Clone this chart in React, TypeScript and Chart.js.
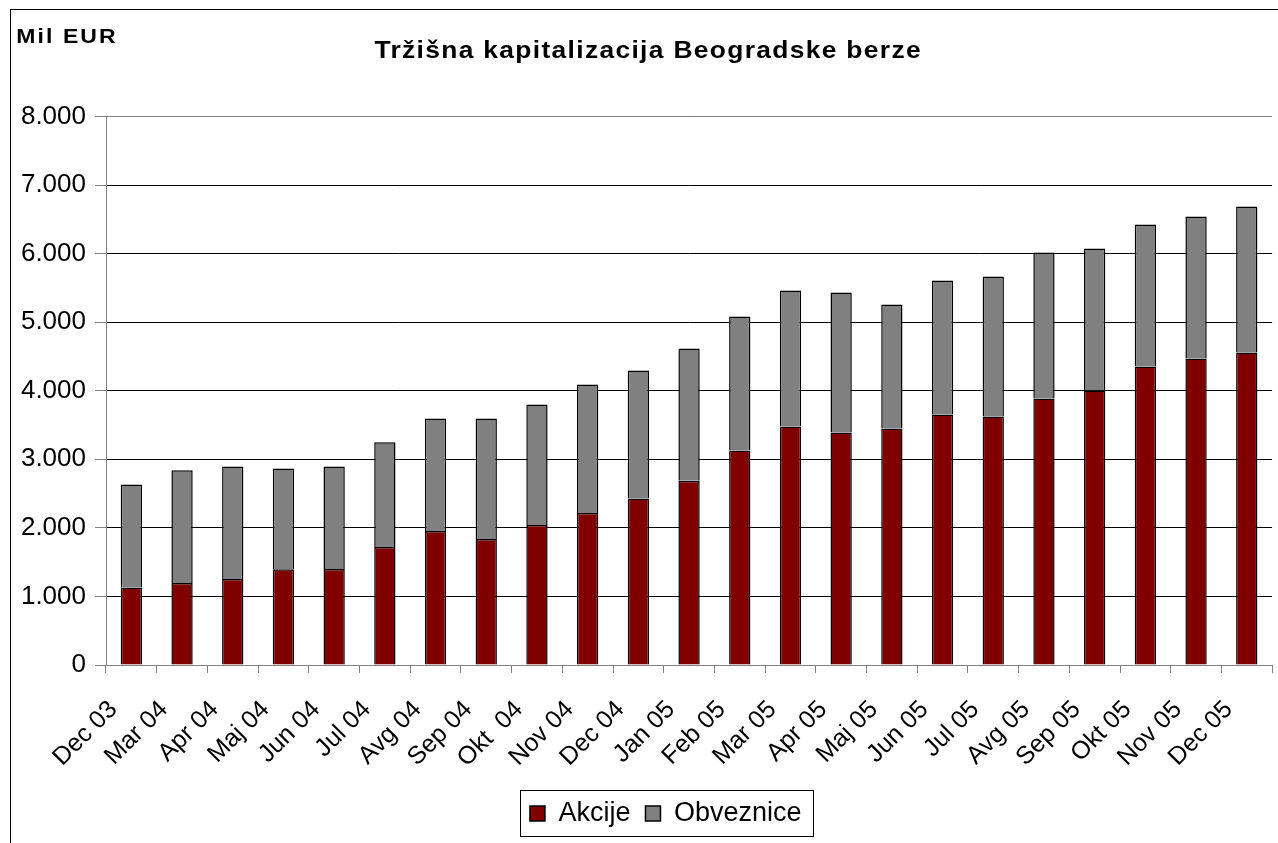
import React, { useEffect, useRef } from "react";
import { Chart, registerables } from "chart.js";

Chart.register(...registerables);

const categories = [
  "Dec 03", "Mar 04", "Apr 04", "Maj 04", "Jun 04", "Jul 04", "Avg 04", "Sep 04",
  "Okt  04", "Nov 04", "Dec 04", "Jan 05", "Feb 05", "Mar 05", "Apr 05", "Maj 05",
  "Jun 05", "Jul 05", "Avg 05", "Sep 05", "Okt 05", "Nov 05", "Dec 05",
];

const akcije = [
  1132, 1196, 1255, 1398, 1401, 1722, 1955, 1839, 2043, 2218, 2427, 2689,
  3127, 3477, 3390, 3448, 3652, 3623, 3886, 4003, 4353, 4470, 4557,
];

const obveznice = [
  1499, 1644, 1639, 1467, 1493, 1526, 1639, 1755, 1755, 1872, 1867, 1926,
  1955, 1985, 2043, 1810, 1956, 2043, 2130, 2072, 2072, 2071, 2130,
];

const yTicks = [0, 1000, 2000, 3000, 4000, 5000, 6000, 7000, 8000];

const titleText = "Tržišna kapitalizacija Beogradske berze";
const unitText = "Mil EUR";
const seriesNames = ["Akcije", "Obveznice"];

const FONT = "'Liberation Sans', Arial, Helvetica, sans-serif";
const LEGEND_PAD = 15;

const fmt = (v: number) => String(v).replace(/\B(?=(\d{3})+(?!\d))/g, ".");

function drawStretched(
  ctx: CanvasRenderingContext2D,
  text: string,
  x: number,
  y: number,
  font: string,
  sx: number,
  spacing: number
) {
  ctx.save();
  ctx.font = font;
  (ctx as any).letterSpacing = `${spacing}px`;
  ctx.textAlign = "left";
  ctx.textBaseline = "alphabetic";
  ctx.translate(x, y);
  ctx.scale(sx, 1);
  ctx.fillText(text, 0, 0);
  (ctx as any).letterSpacing = "0px";
  ctx.restore();
}

const decorPlugin = {
  id: "decor",
  beforeDraw(chart: any) {
    // shift the legend frame so its items are centred as in the original
    if (chart.legend) chart.legend.left = 42.5;
  },
  afterDraw(chart: any) {
    const ctx = chart.ctx as CanvasRenderingContext2D;
    ctx.save();
    ctx.strokeStyle = "#000";
    ctx.lineWidth = 1;
    ctx.strokeRect(10.5, 9.5, 1400, 900);

    ctx.fillStyle = "#000";
    drawStretched(ctx, unitText, 16.3, 43.3, `bold 20px ${FONT}`, 1.15, 1.8);
    drawStretched(ctx, titleText, 374.5, 58.3, `bold 24px ${FONT}`, 1.1, 1.2);

    const lg = chart.legend;
    if (lg && lg.lineWidths && lg.lineWidths.length) {
      const lw = lg.lineWidths[0];
      const start = (lg.left + LEGEND_PAD + lg.right - lw) / 2;
      const end = start + lw - LEGEND_PAD;
      const x0 = Math.round(start - 9.5) + 0.5;
      const x1 = Math.round(end + 11.5) + 0.5;
      const y0 = Math.round(lg.top + 5) + 0.5;
      const y1 = y0 + 46;
      ctx.strokeStyle = "#000";
      ctx.lineWidth = 1;
      ctx.strokeRect(x0, y0, x1 - x0, y1 - y0);
    }
    ctx.restore();
  },
};

export default function App() {
  const ref = useRef<HTMLCanvasElement | null>(null);

  useEffect(() => {
    if (!ref.current) return;
    const chart = new Chart(ref.current, {
      type: "bar",
      data: {
        labels: categories,
        datasets: [
          {
            label: seriesNames[0],
            data: akcije,
            backgroundColor: "#800000",
            borderColor: "#000000",
            borderWidth: 1.5,
            barPercentage: 0.42,
            categoryPercentage: 1.0,
          },
          {
            label: seriesNames[1],
            data: obveznice,
            backgroundColor: "#808080",
            borderColor: "#000000",
            borderWidth: 1.5,
            barPercentage: 0.42,
            categoryPercentage: 1.0,
          },
        ],
      },
      options: {
        responsive: false,
        animation: false,
        events: [],
        layout: { padding: { left: 0, right: 1, top: 116.5, bottom: 6 } },
        plugins: {
          title: { display: false },
          tooltip: { enabled: false },
          legend: {
            display: true,
            position: "bottom",
            align: "center",
            labels: {
              boxWidth: 15,
              boxHeight: 15,
              padding: LEGEND_PAD,
              color: "#000",
              font: { family: FONT, size: 27 },
            },
          },
        },
        scales: {
          x: {
            stacked: true,
            offset: true,
            grid: {
              display: true,
              offset: true,
              drawOnChartArea: false,
              drawTicks: true,
              tickLength: 8,
              tickColor: "#808080",
            },
            border: { display: true, color: "#808080", width: 1 },
            ticks: {
              autoSkip: false,
              maxRotation: 45,
              minRotation: 45,
              labelOffset: -18,
              padding: 22,
              color: "#000",
              font: { family: FONT, size: 25 },
            },
            afterFit: (scale: any) => {
              scale.height = 120;
            },
          },
          y: {
            stacked: true,
            min: 0,
            max: 8000,
            afterBuildTicks: (scale: any) => {
              scale.ticks = yTicks.map((v) => ({ value: v }));
            },
            grid: {
              display: true,
              drawTicks: true,
              tickLength: 11,
              tickColor: "#808080",
              color: (c: any) => (c.tick && c.tick.value === 8000 ? "#808080" : "#000000"),
              lineWidth: 1,
            },
            border: { display: true, color: "#808080", width: 1 },
            ticks: {
              padding: 9,
              color: "#000",
              font: { family: FONT, size: 26 },
              callback: (v: any) => fmt(Number(v)),
            },
            afterFit: (scale: any) => {
              scale.width = 106;
            },
          },
        },
      },
      plugins: [decorPlugin],
    });
    return () => chart.destroy();
  }, []);

  return (
    <div
      style={{
        position: "fixed",
        left: 0,
        top: 0,
        width: 1278,
        height: 843,
        overflow: "hidden",
        background: "#fff",
      }}
    >
      <canvas ref={ref} width={1290} height={843} style={{ display: "block" }} />
    </div>
  );
}
